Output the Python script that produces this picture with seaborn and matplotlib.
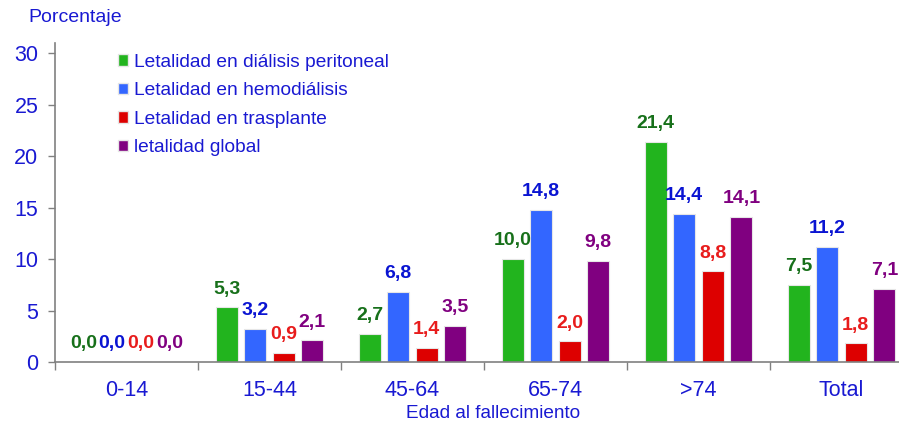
import numpy as np
import pandas as pd
import matplotlib
matplotlib.use("Agg")
import matplotlib.pyplot as plt
import seaborn as sns
from matplotlib.patches import Patch
from matplotlib.ticker import FixedLocator

# data
grupos = ["0-14", "15-44", "45-64", "65-74", ">74", "Total"]
series = ["Letalidad en diálisis peritoneal", "Letalidad en hemodiálisis",
          "Letalidad en trasplante", "letalidad global"]
peritoneal = [0.0, 5.3, 2.7, 10.0, 21.4, 7.5]
hemodialisis = [0.0, 3.2, 6.8, 14.8, 14.4, 11.2]
trasplante = [0.0, 0.9, 1.4, 2.0, 8.8, 1.8]
global_ = [0.0, 2.1, 3.5, 9.8, 14.1, 7.1]

barColors = ["#22B41E", "#3366FF", "#DD0000", "#800080"]
labelColors = ["#17701A", "#0A14D2", "#E81C1C", "#800080"]
textBlue = "#1919D2"

rows = []
for name, vals in zip(series, [peritoneal, hemodialisis, trasplante, global_]):
    for g, v in zip(grupos, vals):
        rows.append({"grupo": g, "serie": name, "valor": v})
df = pd.DataFrame(rows)

sns.set_style("white")
plt.rcParams["font.family"] = ["Liberation Sans", "DejaVu Sans"]

fig = plt.figure(figsize=(8.99, 4.23), dpi=100)
ax = fig.add_axes([55 / 899, 1 - 362 / 423, 858 / 899, 319 / 423])

sns.barplot(data=df, x="grupo", y="valor", hue="serie", order=grupos,
            hue_order=series, palette=barColors, saturation=1, width=0.8,
            gap=0.23, edgecolor="#E6E6E6", linewidth=0.8, ax=ax, legend=False)

# value labels above bars
for cont, col in zip(ax.containers, labelColors):
    ax.bar_label(cont, labels=[("%.1f" % b.get_height()).replace(".", ",") for b in cont],
                 padding=7, color=col, fontsize=14, fontweight="bold")

ax.set_xlim(-0.5, 5.5)
ax.set_ylim(0, 31)
ax.set_yticks([0, 5, 10, 15, 20, 25, 30])
ax.tick_params(axis="y", labelsize=15.5, labelcolor=textBlue, left=True,
               length=5, width=1, color="#808080", pad=7)
ax.xaxis.set_minor_locator(FixedLocator(np.arange(-0.5, 6, 1)))
ax.tick_params(axis="x", which="major", length=0, labelsize=15.5,
               labelcolor=textBlue, pad=13)
ax.tick_params(axis="x", which="minor", bottom=True, length=6, width=1,
               color="#808080")
for s in ["top", "right"]:
    ax.spines[s].set_visible(False)
for s in ["left", "bottom"]:
    ax.spines[s].set_color("#808080")
    ax.spines[s].set_linewidth(1.2)

ax.set_xlabel("Edad al fallecimiento", fontsize=13.7, color=textBlue)
ax.xaxis.set_label_coords(0.51, -0.135)
ax.set_ylabel("")
fig.text(28 / 899, 1 - 18 / 423, "Porcentaje", fontsize=14, color=textBlue,
         va="center", ha="left")

handles = [Patch(facecolor=c, edgecolor="#E6E6E6") for c in barColors]
leg = fig.legend(handles, series, loc="upper left",
                 bbox_to_anchor=(110 / 899, 1 - 46 / 423), frameon=False,
                 fontsize=13.8, handlelength=0.55, handleheight=0.55,
                 handletextpad=0.3, labelspacing=0.6, borderaxespad=0)
for t in leg.get_texts():
    t.set_color(textBlue)

fig.savefig("out.png", dpi=100)
